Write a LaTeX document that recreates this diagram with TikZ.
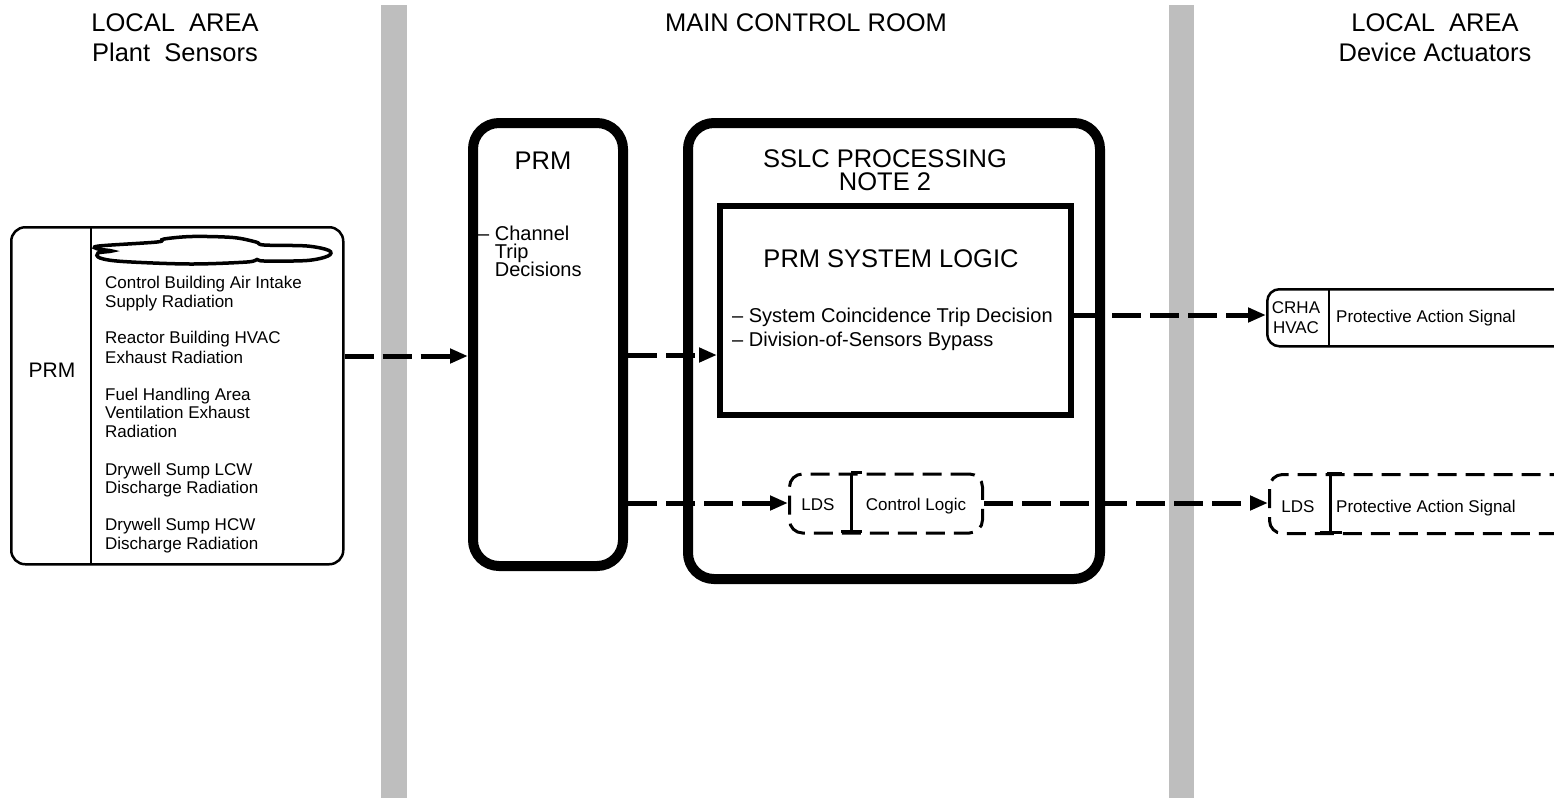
\documentclass[tikz,border=0pt]{standalone}
\usepackage{fontspec}
\setmainfont{Liberation Sans}
\usetikzlibrary{arrows.meta}
\definecolor{barcol}{HTML}{BEBEBE}
\newcommand\fszA{\fontsize{25.5}{30}\selectfont}
\newcommand\fszB{\fontsize{20}{24}\selectfont}
\newcommand\fszC{\fontsize{17}{19}\selectfont}
\newcommand\fszP{\fontsize{21}{24}\selectfont}
\begin{document}
\begin{tikzpicture}[x=1pt,y=-1pt,
  hdr/.style={font=\fszA, inner sep=0, anchor=base},
  midtxt/.style={font=\fszB, inner sep=0, anchor=base west},
  smalltxt/.style={font=\fszC, inner sep=0, anchor=base west},
  smallc/.style={font=\fszC, inner sep=0, anchor=base},
  thinbox/.style={draw, line width=2.5, rounded corners=14, inner sep=0, anchor=north west},
  thickbox/.style={draw, line width=10, rounded corners=26, inner sep=0, anchor=north west},
  logicbox/.style={draw, line width=6, inner sep=0, anchor=north west},
  dashbox/.style={draw, line width=3, dash pattern=on 19 off 9, rounded corners=13, inner sep=0, anchor=north west},
  thinline/.style={line width=2.5},
  divline/.style={line width=3},
  arr/.style={line width=5, dash pattern=on 29 off 9, -{Triangle[length=18,width=14]}}
]
\useasboundingbox (0,0) rectangle (1554,798);
% grey separators
\fill[barcol] (381,5) rectangle (407,798);
\fill[barcol] (1169,5) rectangle (1194,798);

% headers
\node[hdr] (h1) at (175,31) {LOCAL~~AREA};
\node[hdr] (h2) at (175,61) {Plant~~Sensors};
\node[hdr] (h3) at (806,31) {MAIN CONTROL ROOM};
\node[hdr] (h4) at (1435,31) {LOCAL~~AREA};
\node[hdr] (h5) at (1435,61) {Device Actuators};

% left sensor box
\node[thinbox, minimum width=332, minimum height=337] (sens) at (10,226) {};
\draw[thinline] (91,226) -- (91,563);
\node[font=\fszP, inner sep=0, anchor=base] (sprm) at (52,377) {PRM};
\draw[line width=3.5] plot[smooth cycle, tension=0.55] coordinates {
  (99,246) (157,242) (164,239) (192,236.5) (233,237.5) (256,242) (264,245)
  (307,246) (329,250.5) (328,256) (307,260.5) (264,261) (257,259.5) (247,262)
  (190,264) (123,261.5) (100,258) (98,253) (112,251) (98,249)};
\node[smalltxt] (s1) at (105,288) {Control Building Air Intake};
\node[smalltxt] (s2) at (105,307) {Supply Radiation};
\node[smalltxt] (s3) at (105,343) {Reactor Building HVAC};
\node[smalltxt] (s4) at (105,363) {Exhaust Radiation};
\node[smalltxt] (s5) at (105,400) {Fuel Handling Area};
\node[smalltxt] (s6) at (105,418) {Ventilation Exhaust};
\node[smalltxt] (s7) at (105,437) {Radiation};
\node[smalltxt] (s8) at (105,475) {Drywell Sump LCW};
\node[smalltxt] (s9) at (105,493) {Discharge Radiation};
\node[smalltxt] (s10) at (105,530) {Drywell Sump HCW};
\node[smalltxt] (s11) at (105,549) {Discharge Radiation};

% PRM box
\node[thickbox, minimum width=150, minimum height=443] (prm) at (468,118) {};
\node[hdr] (prmt) at (543,169) {PRM};
\node[midtxt] (pc1) at (478,240) {– Channel};
\node[midtxt] (pc2) at (478,258) {\hphantom{– }Trip};
\node[midtxt] (pc3) at (478,276) {\hphantom{– }Decisions};

% SSLC box
\node[thickbox, minimum width=412, minimum height=456] (sslc) at (683,118) {};
\node[hdr] (sslct1) at (885,167) {SSLC PROCESSING};
\node[hdr] (sslct2) at (885,190) {NOTE 2};

% PRM system logic
\node[logicbox, minimum width=351, minimum height=209] (logic) at (717,203) {};
\node[hdr] (lgt) at (891,267) {PRM SYSTEM LOGIC};
\node[midtxt] (lg1) at (732,322) {– System Coincidence Trip Decision};
\node[midtxt] (lg2) at (732,346) {– Division-of-Sensors Bypass};

% LDS / control logic dashed box
\node[dashbox, minimum width=193, minimum height=59] (lds) at (788,472.5) {};
\draw[divline] (851,472.5) -- (851,531.5);
\draw[divline] (851,472.5) -- (862,472.5);
\draw[divline] (841,531.5) -- (862,531.5);
\node[smallc] (ldst) at (818,510) {LDS};
\node[smallc] (clt) at (916,510) {Control Logic};

% CRHA HVAC actuator box
\node[thinbox, rounded corners=12, minimum width=340, minimum height=57] (crha) at (1266,288) {};
\draw[thinline] (1329,288) -- (1329,345);
\node[smallc] (crt1) at (1296,313) {CRHA};
\node[smallc] (crt2) at (1296,333) {HVAC};
\node[smalltxt] (crt3) at (1336,322) {Protective Action Signal};

% LDS actuator box
\node[dashbox, minimum width=340, minimum height=59] (ldsr) at (1268,473) {};
\draw[divline] (1330,473) -- (1330,532);
\draw[divline] (1327,473) -- (1342,473);
\draw[divline] (1320,532) -- (1342,532);
\node[smallc] (ldsrt) at (1298,512) {LDS};
\node[smalltxt] (ldsrt2) at (1336,512) {Protective Action Signal};

% connectors
\draw[arr] (sens.east |- 0,356) -- (prm.west |- 0,356);
\draw[arr] (prm.east |- 0,355) -- (logic.west |- 0,355);
\draw[arr] (logic.east |- 0,315) -- (crha.west |- 0,315);
\draw[arr] (prm.east |- 0,503) -- (lds.west |- 0,503);
\draw[arr] (lds.east |- 0,503) -- (ldsr.west |- 0,503);
\end{tikzpicture}
\end{document}
